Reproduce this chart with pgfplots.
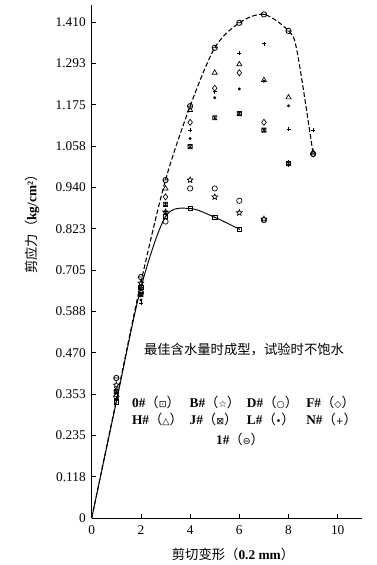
\documentclass[border=0pt]{standalone}
\usepackage{pgfplots}
\pgfplotsset{compat=1.18}
\usepackage{fontspec}
\setmainfont{Liberation Serif}
\newfontfamily\cjk{Noto Sans CJK SC}
\newfontfamily\sym{DejaVu Sans}

\pgfdeclareplotmark{ominus}{%
 \pgfpathcircle{\pgfpointorigin}{\pgfplotmarksize}%
 \pgfpathmoveto{\pgfqpoint{-\pgfplotmarksize}{0pt}}%
 \pgfpathlineto{\pgfqpoint{\pgfplotmarksize}{0pt}}%
 \pgfusepathqstroke}
\pgfdeclareplotmark{sqdot}{%
 \pgfpathrectanglecorners{\pgfqpoint{-\pgfplotmarksize}{-\pgfplotmarksize}}{\pgfqpoint{\pgfplotmarksize}{\pgfplotmarksize}}%
 \pgfusepathqstroke
 \pgfpathcircle{\pgfpointorigin}{0.35\pgfplotmarksize}\pgfusepathqfill}
\pgfdeclareplotmark{sqast}{%
 \pgfpathrectanglecorners{\pgfqpoint{-\pgfplotmarksize}{-\pgfplotmarksize}}{\pgfqpoint{\pgfplotmarksize}{\pgfplotmarksize}}%
 \pgfpathmoveto{\pgfqpoint{0pt}{-\pgfplotmarksize}}\pgfpathlineto{\pgfqpoint{0pt}{\pgfplotmarksize}}%
 \pgfpathmoveto{\pgfqpoint{-\pgfplotmarksize}{-\pgfplotmarksize}}\pgfpathlineto{\pgfqpoint{\pgfplotmarksize}{\pgfplotmarksize}}%
 \pgfpathmoveto{\pgfqpoint{-\pgfplotmarksize}{\pgfplotmarksize}}\pgfpathlineto{\pgfqpoint{\pgfplotmarksize}{-\pgfplotmarksize}}%
 \pgfusepathqstroke}
\pgfdeclareplotmark{staro}{%
 \pgfpathmoveto{\pgfpointpolar{90}{\pgfplotmarksize}}%
 \pgfpathlineto{\pgfpointpolar{126}{0.45\pgfplotmarksize}}%
 \pgfpathlineto{\pgfpointpolar{162}{\pgfplotmarksize}}%
 \pgfpathlineto{\pgfpointpolar{198}{0.45\pgfplotmarksize}}%
 \pgfpathlineto{\pgfpointpolar{234}{\pgfplotmarksize}}%
 \pgfpathlineto{\pgfpointpolar{270}{0.45\pgfplotmarksize}}%
 \pgfpathlineto{\pgfpointpolar{306}{\pgfplotmarksize}}%
 \pgfpathlineto{\pgfpointpolar{342}{0.45\pgfplotmarksize}}%
 \pgfpathlineto{\pgfpointpolar{18}{\pgfplotmarksize}}%
 \pgfpathlineto{\pgfpointpolar{54}{0.45\pgfplotmarksize}}%
 \pgfpathclose\pgfusepathqstroke}

\newcommand\entry[2]{{\bfseries #1\#}{\cjk（}{\sym\fontsize{7}{8}\selectfont #2}{\cjk ）}}

\begin{document}
\begin{tikzpicture}
\path[use as bounding box] (-68.8pt,-35.25pt) rectangle (213.2pt,388.5pt);
\begin{axis}[
  scale only axis,
  width=202.95pt, height=385.1pt,
  xmin=0, xmax=11, ymin=0, ymax=1.46,
  axis lines=left,
  axis line style={-, line width=0.7pt},
  tick align=inside,
  major tick length=3pt,
  tick style={black, line width=0.6pt},
  xtick={0,2,4,6,8,10},
  ytick={0,0.1175,0.235,0.3525,0.47,0.5875,0.705,0.8225,0.94,1.0575,1.175,1.2925,1.41},
  yticklabels={0,0.118,0.235,0.353,0.470,0.588,0.705,0.823,0.940,1.058,1.175,1.293,1.410},
  /pgf/number format/assume math mode=true,
  tick label style={font=\fontsize{10}{12}\selectfont},
  xticklabel style={yshift=-2pt},
  yticklabel style={xshift=-1pt},
  xlabel={{\cjk 剪切变形（}{\bfseries 0.2 mm}{\cjk ）}},
  xlabel style={at={(axis description cs:0.522,-0.07)}, anchor=center, font=\fontsize{10}{12}\selectfont},
  ylabel={{\cjk 剪应力（}{\bfseries kg/cm²}{\cjk ）}},
  ylabel style={at={(axis description cs:-0.22,0.578)}, anchor=center, rotate=0, font=\fontsize{10}{12}\selectfont},
  clip=false,
  every axis plot/.append style={black},
  mark size=2pt,
]
% 0# solid curve
\addplot[solid, line width=0.7pt, smooth, tension=0.5, mark=sqdot, mark phase=2, mark options={solid, line width=0.5pt}, mark size=1.6pt]
 coordinates {(0,0)(1,0.33)(2,0.655)(3,0.857)(4,0.880)(5,0.855)(6,0.821)};
% 1# dashed curve
\addplot[line width=0.8pt, dash pattern=on 3.5pt off 1.8pt, smooth, tension=0.5, no marks]
 coordinates {(0,0)(1,0.335)(2,0.67)(3,0.961)(4,1.171)(5,1.337)(6,1.408)(7,1.432)(8,1.385)(8.35,1.326)(9,1.035)};
% 1# marks
\addplot[only marks, mark=ominus, mark options={line width=0.6pt}]
 coordinates {(1,0.398)(2,0.685)(3,0.961)(4,1.171)(5,1.337)(6,1.408)(7,1.432)(8,1.385)(9,1.035)};
% B#
\addplot[only marks, mark=staro, mark options={line width=0.5pt}, mark size=2.3pt]
 coordinates {(1,0.378)(2,0.668)(3,0.870)(4,0.961)(5,0.913)(6,0.868)(7,0.850)};
% D#
\addplot[only marks, mark=o, mark options={line width=0.5pt}]
 coordinates {(1,0.345)(2,0.64)(3,0.843)(4,0.937)(5,0.937)(6,0.902)(7,0.847)};
% F#
\addplot[only marks, mark=diamond, mark options={line width=0.5pt}, mark size=2.3pt]
 coordinates {(1,0.362)(2,0.645)(3,0.913)(4,1.125)(5,1.222)(6,1.266)(7,1.125)(8,1.008)(9,1.035)};
% H#
\addplot[only marks, mark=triangle, mark options={line width=0.5pt}, mark size=2.2pt]
 coordinates {(1,0.35)(2,0.655)(3,0.937)(4,1.16)(5,1.266)(6,1.290)(7,1.245)(8,1.196)(9,1.040)};
% J#
\addplot[only marks, mark=sqast, mark options={line width=0.5pt}, mark size=1.6pt]
 coordinates {(1,0.36)(2,0.635)(3,0.892)(4,1.056)(5,1.138)(6,1.150)(7,1.103)(8,1.008)};
% L#
\addplot[only marks, mark=*, mark size=0.9pt]
 coordinates {(1,0.335)(2,0.62)(3,0.865)(4,1.079)(5,1.195)(6,1.220)(7,1.242)(8,1.172)};
% N#
\addplot[only marks, mark=+, mark options={line width=0.5pt}, mark size=1.5pt]
 coordinates {(1,0.34)(2,0.61)(3,0.872)(4,1.103)(5,1.212)(6,1.321)(7,1.349)(8,1.105)(9,1.103)};

\node[font=\fontsize{10}{12}\selectfont\cjk] at (axis cs:6.19,0.480) {最佳含水量时成型，试验时不饱水};
\begin{scope}[every node/.style={anchor=west, inner sep=0pt, font=\fontsize{10}{12}\selectfont}]
\node at (axis cs:1.63,0.330) {\entry{0}{⊡}};
\node at (axis cs:3.97,0.330) {\entry{B}{☆}};
\node at (axis cs:6.30,0.330) {\entry{D}{○}};
\node at (axis cs:8.71,0.330) {\entry{F}{◇}};
\node at (axis cs:1.63,0.281) {\entry{H}{△}};
\node at (axis cs:3.97,0.281) {\entry{J}{⊠}};
\node at (axis cs:6.30,0.281) {\entry{L}{•}};
\node at (axis cs:8.71,0.281) {\entry{N}{+}};
\end{scope}
\node[inner sep=0pt, font=\fontsize{10}{12}\selectfont] at (axis cs:6.03,0.222) {\entry{1}{⊖}};
\end{axis}
\end{tikzpicture}
\end{document}
